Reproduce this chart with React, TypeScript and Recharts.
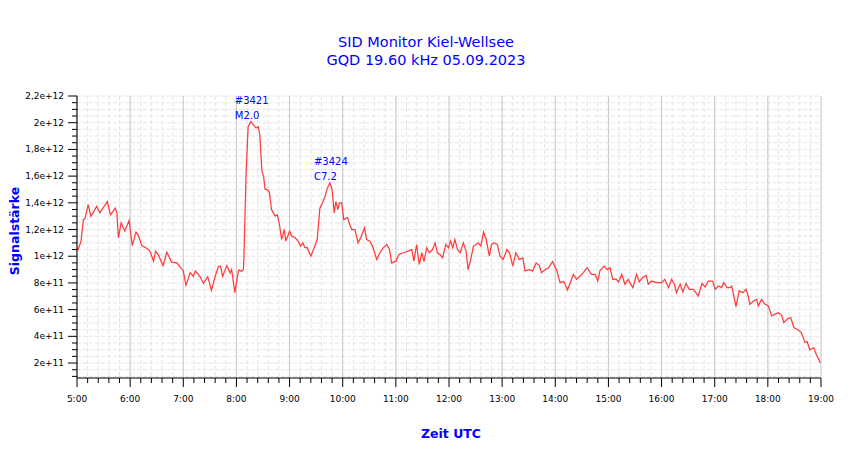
import { ComposedChart, Line, Scatter, XAxis, YAxis, CartesianGrid } from "recharts";

// time in hours UTC, signal in units of 1e11
const times = [
  5.0, 5.02, 5.075, 5.12, 5.15, 5.21, 5.26, 5.31, 5.37, 5.43, 5.49, 5.57, 5.63, 5.72, 5.75, 5.78, 5.83, 5.9, 5.98,
  6.04, 6.11, 6.15, 6.22, 6.31, 6.37, 6.44, 6.48, 6.53, 6.62, 6.69, 6.78, 6.88, 6.94,
  7.0, 7.05, 7.13, 7.19, 7.23, 7.31, 7.38, 7.46, 7.53, 7.6, 7.66, 7.7, 7.74, 7.82, 7.88, 7.91, 7.97,
  8.04, 8.1, 8.13, 8.14, 8.18, 8.22, 8.27, 8.32, 8.37, 8.41, 8.44, 8.48, 8.51, 8.54, 8.57, 8.62, 8.66, 8.73, 8.77,
  8.81, 8.85, 8.9, 8.93,
  9.0, 9.04, 9.1, 9.16, 9.21, 9.25, 9.29, 9.33, 9.4, 9.46, 9.52, 9.57, 9.62, 9.67, 9.71, 9.76, 9.8, 9.84, 9.87,
  9.91, 9.94, 9.98,
  10.02, 10.09, 10.12, 10.17, 10.23, 10.29, 10.34, 10.41, 10.45, 10.51, 10.56, 10.64, 10.7, 10.76, 10.83, 10.88, 10.92,
  11.0, 11.06, 11.14, 11.23, 11.3, 11.34, 11.39, 11.44, 11.49, 11.53, 11.58, 11.63, 11.69, 11.74, 11.78, 11.83, 11.88,
  11.94, 11.99,
  12.03, 12.07, 12.11, 12.16, 12.21, 12.27, 12.32, 12.36, 12.41, 12.46, 12.51, 12.55, 12.6, 12.65, 12.7, 12.76, 12.8,
  12.85, 12.91, 12.96,
  13.02, 13.09, 13.14, 13.2, 13.26, 13.32, 13.39, 13.43, 13.51, 13.57, 13.64, 13.7, 13.74, 13.81, 13.87, 13.95,
  14.03, 14.09, 14.16, 14.23, 14.28, 14.34, 14.4, 14.5, 14.6, 14.68, 14.75, 14.8, 14.84, 14.92, 14.98,
  15.03, 15.08, 15.14, 15.19, 15.25, 15.31, 15.37, 15.46, 15.53, 15.58, 15.64, 15.71, 15.75, 15.81, 15.91,
  16.0, 16.06, 16.13, 16.19, 16.24, 16.28, 16.35, 16.4, 16.46, 16.52, 16.6, 16.69, 16.76, 16.82, 16.88, 16.96,
  17.01, 17.07, 17.13, 17.17, 17.23, 17.29, 17.32, 17.4, 17.46, 17.53, 17.59, 17.63, 17.66, 17.73, 17.79, 17.82,
  17.88, 17.95,
  18.01, 18.07, 18.13, 18.2, 18.26, 18.3, 18.37, 18.43, 18.49, 18.57, 18.63, 18.7, 18.74, 18.79, 18.86, 18.91, 18.99,
];

const signal = [
  10.6, 10.5, 11.1, 12.75, 12.8, 13.87, 13.0, 13.3, 13.74, 13.25, 13.6, 14.1, 13.1, 13.6, 13.25, 11.38, 12.5, 11.87, 12.67,
  10.8, 11.8, 11.6, 10.8, 10.6, 10.4, 9.63, 10.38, 10.1, 9.3, 10.3, 9.56, 9.5, 9.2,
  8.9, 7.82, 8.77, 8.5, 8.9, 8.5, 7.97, 8.47, 7.45, 8.5, 9.22, 9.25, 8.5, 9.3, 8.75, 9.0, 7.28,
  8.96, 8.88, 9.0, 9.76, 15.98, 19.7, 20.08, 19.84, 19.6, 19.7, 19.1, 16.35, 16.0, 15.0, 15.0, 14.8, 13.5, 13.0, 13.1,
  12.37, 11.25, 12.0, 11.13,
  11.87, 11.5, 11.4, 11.13, 10.76, 11.0, 10.64, 10.64, 10.0, 10.6, 11.25, 13.6, 14.0, 14.5, 15.1, 15.5, 15.0, 13.25, 14.1,
  13.5, 14.0, 14.0,
  12.75, 12.9, 12.5, 12.0, 12.0, 11.0, 11.4, 12.13, 11.25, 11.13, 10.76, 9.76, 10.26, 10.63, 10.88, 10.5, 9.5,
  9.63, 10.13, 10.26, 10.38, 10.5, 9.63, 10.88, 9.38, 10.26, 9.6, 10.63, 10.26, 10.5, 11.0, 10.26, 10.13, 9.88,
  10.88, 10.63,
  11.13, 10.63, 11.25, 10.5, 10.26, 11.0, 10.4, 9.0, 9.76, 10.76, 10.88, 11.0, 10.76, 11.8, 11.25, 10.0, 10.88,
  11.0, 10.88, 10.0,
  9.76, 10.5, 10.26, 9.26, 10.26, 9.76, 9.88, 8.9, 9.0, 8.9, 9.5, 9.3, 8.77, 9.0, 9.13, 9.6,
  8.9, 8.02, 8.1, 7.47, 8.0, 8.64, 8.27, 8.64, 9.14, 8.64, 8.64, 8.14, 8.9, 9.26, 9.0,
  9.13, 8.27, 8.3, 8.07, 8.64, 7.9, 8.27, 7.65, 8.64, 8.07, 8.39, 8.56, 7.9, 8.14, 8.02,
  8.02, 8.27, 7.65, 8.27, 7.9, 7.28, 7.9, 7.33, 7.96, 7.52, 7.52, 7.02, 7.96, 7.7, 8.14, 8.14,
  7.52, 7.77, 7.65, 8.02, 7.65, 7.65, 7.77, 6.23, 7.4, 7.27, 7.52, 7.02, 6.4, 6.65, 6.77, 6.28,
  6.77, 6.4,
  6.28, 5.53, 5.65, 5.77, 5.57, 5.03, 5.32, 5.4, 4.66, 4.48, 4.28, 3.54, 3.6, 2.99, 3.16, 2.66, 2.0,
];

const flareTimes = [8.27, 9.76];
const flareValues = [20.08, 15.5];
const flareIds = ["#3421", "#3424"];
const flareClasses = ["M2.0", "C7.2"];

const hourTicks = [5, 6, 7, 8, 9, 10, 11, 12, 13, 14, 15, 16, 17, 18, 19];
const xTickLabels = ["5:00", "6:00", "7:00", "8:00", "9:00", "10:00", "11:00", "12:00", "13:00", "14:00", "15:00", "16:00", "17:00", "18:00", "19:00"];
const yTickLabels = ["2e+11", "4e+11", "6e+11", "8e+11", "1e+12", "1,2e+12", "1,4e+12", "1,6e+12", "1,8e+12", "2e+12", "2,2e+12"];

const UNIT = 1e11;
const data = times.map((t, i) => ({ t, v: signal[i] * UNIT }));
const flares = flareTimes.map((t, i) => ({ t, v: flareValues[i] * UNIT, id: flareIds[i], cls: flareClasses[i] }));

// minor ticks: every 12 minutes, every 5e10
const xTicks = Array.from({ length: 71 }, (_, i) => 5 + i / 5);
const yTicks = Array.from({ length: 43 }, (_, i) => (2 + i) * 0.5 * UNIT);

const BLUE = "#0000ff";

function XTick(props: any) {
  const { x, y, payload } = props;
  const v = payload.value;
  const major = Math.abs(v - Math.round(v)) < 1e-6;
  return (
    <g>
      <line x1={x} x2={x} y1={y} y2={y + (major ? 9 : 5)} stroke="#000" />
      {major && (
        <text x={x} y={y + 24} textAnchor="middle" fontSize={9} fill="#000">
          {xTickLabels[Math.round(v) - 5]}
        </text>
      )}
    </g>
  );
}

function YTick(props: any) {
  const { x, y, payload } = props;
  const k = payload.value / (2 * UNIT);
  const major = Math.abs(k - Math.round(k)) < 1e-6;
  return (
    <g>
      <line x1={x - (major ? 9 : 5)} x2={x} y1={y} y2={y} stroke="#000" />
      {major && (
        <text x={x - 13} y={y + 3} textAnchor="end" fontSize={9} fill="#000">
          {yTickLabels[Math.round(k) - 1]}
        </text>
      )}
    </g>
  );
}

function FlareLabel(props: any) {
  const { cx, cy, payload } = props;
  return (
    <g>
      <text x={cx - 16} y={cy - 18} fontSize={10} fill={BLUE}>{payload.id}</text>
      <text x={cx - 16} y={cy - 3} fontSize={10} fill={BLUE}>{payload.cls}</text>
    </g>
  );
}

export default function App() {
  return (
    <div
      style={{
        position: "absolute",
        left: 0,
        top: 0,
        width: 850,
        height: 459,
        background: "#fff",
        fontFamily: "'DejaVu Sans', sans-serif",
      }}
    >
      <div
        style={{
          position: "absolute",
          top: 33,
          left: 0,
          width: 852,
          textAlign: "center",
          color: BLUE,
          fontSize: 14.5,
          lineHeight: "18px",
        }}
      >
        SID Monitor Kiel-Wellsee
        <br />
        GQD 19.60 kHz 05.09.2023
      </div>
      <div
        style={{
          position: "absolute",
          left: 14,
          top: 231,
          transform: "translate(-50%, -50%) rotate(-90deg)",
          color: BLUE,
          fontWeight: "bold",
          fontSize: 12.5,
          whiteSpace: "nowrap",
        }}
      >
        Signalstärke
      </div>
      <div
        style={{
          position: "absolute",
          left: 451,
          top: 426,
          transform: "translateX(-50%)",
          color: BLUE,
          fontWeight: "bold",
          fontSize: 12.5,
          whiteSpace: "nowrap",
        }}
      >
        Zeit UTC
      </div>
      <ComposedChart
        width={850}
        height={459}
        data={data}
        margin={{ top: 96, right: 29, bottom: 41, left: 0 }}
        style={{ position: "absolute", left: 0, top: 0 }}
      >
        <CartesianGrid stroke="#e6e6e6" strokeDasharray="4 2" />
        <CartesianGrid horizontal={false} verticalValues={hourTicks} stroke="#c8c8c8" />
        <XAxis
          dataKey="t"
          type="number"
          domain={[5, 19]}
          ticks={xTicks}
          interval={0}
          height={40}
          tickSize={0}
          tickMargin={0}
          tickLine={false}
          axisLine={{ stroke: "#000" }}
          tick={<XTick />}
          allowDataOverflow
        />
        <YAxis
          type="number"
          domain={[0.88 * UNIT, 22 * UNIT]}
          ticks={yTicks}
          interval={0}
          width={77}
          tickSize={0}
          tickMargin={0}
          tickLine={false}
          axisLine={{ stroke: "#000" }}
          tick={<YTick />}
          allowDataOverflow
        />
        <Line
          dataKey="v"
          type="linear"
          stroke="#ff3b3b"
          strokeWidth={1.25}
          dot={false}
          isAnimationActive={false}
        />
        <Scatter data={flares} dataKey="v" shape={<FlareLabel />} isAnimationActive={false} />
      </ComposedChart>
    </div>
  );
}
